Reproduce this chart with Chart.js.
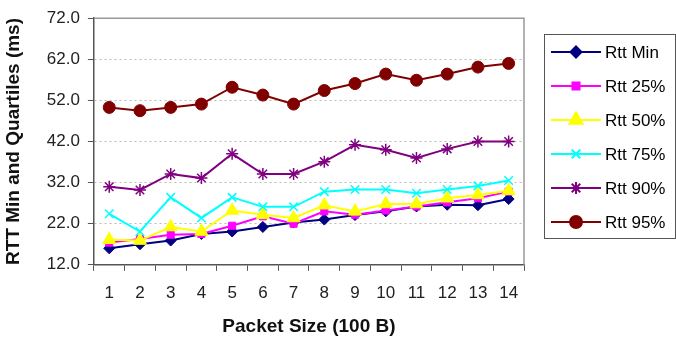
<!DOCTYPE html>
<html>
<head>
<meta charset="utf-8">
<script src="https://cdn.jsdelivr.net/npm/chart.js@4/dist/chart.umd.min.js"></script>
<style>
  html, body { margin: 0; padding: 0; background: #fff; }
  #wrap { width: 676px; height: 339px; }
</style>
</head>
<body>
<div id="wrap"><canvas id="rttChart"></canvas></div>
<script>
// packet sizes (x 100 B)
const packetSizes = ['1', '2', '3', '4', '5', '6', '7', '8', '9', '10', '11', '12', '13', '14'];

// RTT values in ms
const rttMin = [16.0, 17.0, 17.9, 19.5, 20.1, 21.2, 22.3, 23.0, 24.1, 25.0, 26.2, 26.6, 26.5, 28.0];
const rtt25 = [17.4, 18.3, 19.3, 19.5, 21.5, 23.8, 22.0, 25.0, 24.2, 25.2, 26.2, 27.2, 28.2, 29.8];
const rtt50 = [18.1, 17.9, 21.2, 20.1, 25.2, 24.2, 23.4, 26.5, 25.0, 26.8, 26.8, 28.2, 29.0, 30.0];
const rtt75 = [24.4, 20.1, 28.4, 23.4, 28.4, 26.1, 26.1, 29.8, 30.3, 30.3, 29.4, 30.3, 31.2, 32.5];
const rtt90 = [31.0, 30.2, 34.1, 33.1, 39.0, 34.1, 34.1, 37.1, 41.2, 40.0, 38.0, 40.2, 42.0, 42.0];
const rtt95 = [50.3, 49.5, 50.3, 51.1, 55.2, 53.3, 51.1, 54.4, 56.1, 58.4, 56.9, 58.4, 60.1, 61.0];

const yTicks = [12, 22, 32, 42, 52, 62, 72];

const seriesNames = ['Rtt Min', 'Rtt 25%', 'Rtt 50%', 'Rtt 75%', 'Rtt 90%', 'Rtt 95%'];
const seriesData = [rttMin, rtt25, rtt50, rtt75, rtt90, rtt95];
const seriesColors = ['#000080', '#ff00ff', '#ffff00', '#00ffff', '#800080', '#800000'];
const seriesMarkers = ['rectRot', 'rect', 'triangle', 'crossRot', 'star', 'circle'];
const markerSizes = [5.5, 5, 7.5, 6, 6, 6];

const FONT = "'Liberation Sans', Arial, sans-serif";

const datasets = seriesNames.map((name, i) => {
    const hollow = seriesMarkers[i] === 'crossRot' || seriesMarkers[i] === 'star';
    return {
        label: name,
        data: seriesData[i],
        borderColor: seriesColors[i],
        backgroundColor: seriesColors[i],
        borderWidth: 2,
        pointStyle: seriesMarkers[i],
        pointRadius: markerSizes[i],
        pointBorderWidth: hollow ? 1.5 : 1,
        pointBackgroundColor: seriesColors[i],
        pointBorderColor: seriesColors[i],
        tension: 0,
        order: seriesNames.length - i  // later series sit on top, like Excel
    };
});

// top + right frame of the plot area
const frame = {
    id: 'frame',
    afterDraw(chart) {
        const { ctx, chartArea: a } = chart;
        ctx.save();
        ctx.strokeStyle = '#999';
        ctx.lineWidth = 1.5;
        ctx.beginPath();
        ctx.moveTo(a.left, a.top);
        ctx.lineTo(a.right, a.top);
        ctx.lineTo(a.right, a.bottom);
        ctx.stroke();
        ctx.restore();
    }
};

// Excel-style legend box: line + marker + text
const boxLegend = {
    id: 'boxLegend',
    afterDraw(chart) {
        const { ctx, chartArea: a } = chart;
        const left = a.right + 20;
        const top = 34;
        const right = chart.width - 1;
        const rowH = 34;
        const bottom = top + rowH * seriesNames.length;
        ctx.save();
        ctx.strokeStyle = '#555';
        ctx.lineWidth = 1;
        ctx.strokeRect(left + 0.5, top + 0.5, right - left, bottom - top);
        ctx.font = '17px ' + FONT;
        ctx.textBaseline = 'middle';
        chart.data.datasets.forEach((ds, i) => {
            const y = top + rowH / 2 + 1 + i * rowH;
            ctx.strokeStyle = ds.borderColor;
            ctx.fillStyle = ds.borderColor;
            ctx.lineWidth = 2;
            ctx.beginPath();
            ctx.moveTo(left + 7, y);
            ctx.lineTo(left + 57, y);
            ctx.stroke();
            Chart.helpers.drawPoint(ctx, {
                pointStyle: ds.pointStyle,
                radius: ds.pointRadius,
                rotation: 0,
                borderWidth: ds.pointBorderWidth
            }, left + 32, y);
            ctx.fillStyle = '#000';
            ctx.fillText(ds.label, left + 61, y + 1);
        });
        ctx.restore();
    }
};

new Chart('rttChart', {
    type: 'line',
    data: { labels: packetSizes, datasets: datasets },
    plugins: [frame, boxLegend],
    options: {
        responsive: true,
        maintainAspectRatio: false,
        animation: false,
        layout: { padding: { top: 14, right: 152, bottom: 0, left: 2 } },
        plugins: {
            legend: { display: false },
            tooltip: { enabled: false }
        },
        scales: {
            x: {
                offset: true,
                grid: {
                    offset: true,
                    drawOnChartArea: false,
                    color: '#555',
                    tickLength: 6
                },
                border: { color: '#555', width: 1.5 },
                ticks: { color: '#222', font: { family: FONT, size: 17 }, padding: 12 },
                title: {
                    display: true,
                    text: 'Packet Size (100 B)',
                    color: '#111',
                    font: { family: FONT, size: 19, weight: 'bold' },
                    padding: { top: 0, bottom: 1 }
                }
            },
            y: {
                min: yTicks[0],
                max: yTicks[yTicks.length - 1],
                afterBuildTicks(scale) {
                    scale.ticks = yTicks.map(v => ({ value: v }));
                },
                grid: {
                    color: (c) => (c.index === 0 || c.index === yTicks.length - 1) ? 'rgba(0,0,0,0)' : '#bbb',
                    tickColor: '#555',
                    tickLength: 6,
                    tickBorderDash: [],
                    lineWidth: 1
                },
                border: { color: '#555', width: 1.5, dash: [2, 3] },
                ticks: {
                    color: '#222',
                    font: { family: FONT, size: 17 },
                    padding: 8,
                    callback: (v) => Number(v).toFixed(1)
                },
                title: {
                    display: true,
                    text: 'RTT Min and Quartiles (ms)',
                    color: '#111',
                    font: { family: FONT, size: 19, weight: 'bold' },
                    padding: { top: 0, bottom: 14 }
                }
            }
        }
    }
});
</script>
</body>
</html>
